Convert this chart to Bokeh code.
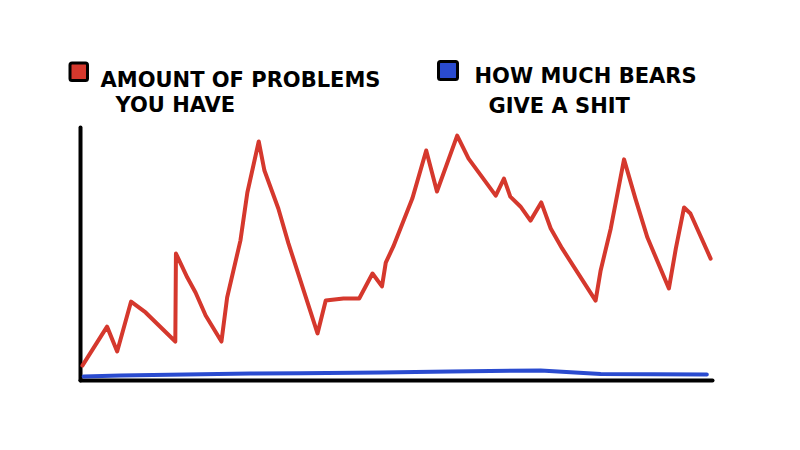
from bokeh.plotting import figure
from bokeh.models import Label, Range1d, BoxAnnotation
from bokeh.embed import file_html
from bokeh.resources import INLINE

# --- data (time 0..100, level 0..100) ---
problems_x = [0.3, 4.2, 5.8, 8.0, 10.3, 15.0, 15.1, 16.9, 18.2, 19.8, 22.3, 23.2, 25.3,
              26.4, 28.2, 29.1, 31.3, 32.9, 37.5, 38.8, 41.6, 44.1, 46.2, 47.7, 48.3,
              49.5, 52.5, 54.7, 56.4, 59.6, 61.4, 65.7, 67.0, 68.0, 69.6, 71.2, 72.9,
              74.4, 76.2, 81.5, 82.3, 83.9, 86.0, 87.8, 89.7, 93.1, 94.2, 95.5, 96.5, 99.7]
problems_y = [5.9, 21.3, 11.5, 31.2, 26.9, 15.4, 50.2, 40.7, 34.8, 25.7, 15.4, 32.8, 55.3,
              74.3, 94.5, 83.0, 68.0, 54.2, 18.6, 31.6, 32.4, 32.4, 42.3, 37.2, 46.6,
              53.0, 71.9, 90.9, 74.7, 96.8, 87.7, 73.1, 79.8, 72.7, 68.8, 63.2, 70.4,
              60.1, 52.2, 31.6, 43.5, 60.1, 87.4, 71.9, 56.5, 36.4, 52.2, 68.4, 66.0, 48.2]

bears_x = [0.5, 6.3, 26.9, 34.8, 47.5, 58.5, 72.8, 82.3, 99.1]
bears_y = [1.6, 2.0, 2.8, 2.9, 3.2, 3.6, 4.0, 2.6, 2.4]

# hand-drawn axes (time axis and level axis)
axis_x_end = 100
axis_y_end = 100

legend_line1 = ["AMOUNT OF PROBLEMS", "HOW MUCH BEARS"]
legend_line2 = ["YOU HAVE", "GIVE A SHIT"]

RED = "#d5382d"
BLUE = "#2a4bcf"
FONT = "DejaVu Sans"

W, H = 784, 434
# the plot area spans the whole canvas; data 0..100 sits inside it
p = figure(width=W, height=H, output_backend="svg", toolbar_location=None,
           x_axis_type=None, y_axis_type=None,
           x_range=Range1d(-12.66, 111.39), y_range=Range1d(-21.34, 150.2),
           min_border=0)
p.outline_line_color = None
p.grid.visible = False
p.background_fill_color = "white"
p.border_fill_color = "white"

# axes
p.line([0, 0], [0, axis_y_end], line_color="black", line_width=4, line_cap="round")
p.line([0, axis_x_end], [0, 0], line_color="black", line_width=4, line_cap="round")

p.line(problems_x, problems_y, line_color=RED, line_width=4,
       line_join="round", line_cap="round")
p.line(bears_x, bears_y, line_color=BLUE, line_width=4,
       line_join="round", line_cap="round")

# legend: swatches + two-line labels (screen units, y measured from the bottom)
def swatch(left, right, top, bottom, color):
    return BoxAnnotation(left=left, right=right, top=H - top, bottom=H - bottom,
                         left_units="screen", right_units="screen",
                         top_units="screen", bottom_units="screen",
                         fill_color=color, fill_alpha=1, line_color="black",
                         line_width=3, line_alpha=1, border_radius=2, level="overlay")

p.add_layout(swatch(69.5, 87, 62.5, 80, RED))
p.add_layout(swatch(438, 457, 61, 79, BLUE))

def label(txt, x, baseline):
    return Label(x=x, y=H - baseline, x_units="screen", y_units="screen", text=txt,
                 text_font=FONT, text_font_style="bold", text_font_size="21px",
                 text_color="black", text_baseline="alphabetic")

p.add_layout(label(legend_line1[0], 100, 79))
p.add_layout(label(legend_line2[0], 115, 104.5))
p.add_layout(label(legend_line1[1], 474, 75.5))
p.add_layout(label(legend_line2[1], 488, 105.5))

open("out.html", "w").write(file_html(p, INLINE))
